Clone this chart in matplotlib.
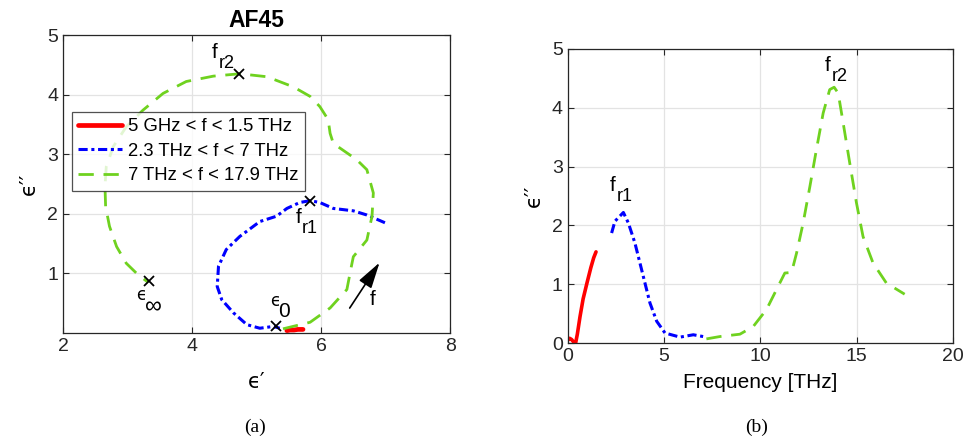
import matplotlib
matplotlib.use("Agg")
import matplotlib.pyplot as plt

plt.rcParams["font.family"] = ["Liberation Sans", "DejaVu Sans"]

RED = "#ff0000"
BLUE = "#0000ff"
GREEN = "#6fd21f"
INK = "#262626"
DASH_BLUE = (0, (3, 1.2, 1, 1.2))
DASH_GREEN = (0, (5.5, 3.5))

# (a) Cole-Cole plane: eps' vs eps''
red_e1 = [5.47, 5.52, 5.58, 5.64, 5.72]
red_e2 = [0.04, 0.05, 0.05, 0.06, 0.06]

blue_e1 = [6.99, 6.71, 6.50, 6.19, 5.98, 5.83, 5.67, 5.47, 5.31, 5.05,
           4.74, 4.53, 4.41, 4.39, 4.46, 4.64, 4.85, 5.05, 5.26, 5.36]
blue_e2 = [1.85, 1.98, 2.05, 2.09, 2.19, 2.22, 2.19, 2.09, 1.96, 1.87,
           1.62, 1.40, 1.12, 0.78, 0.56, 0.34, 0.14, 0.08, 0.11, 0.08]

green_e1 = [5.41, 5.83, 6.14, 6.40, 6.47, 6.50, 6.71, 6.79, 6.81, 6.71,
            6.55, 6.19, 6.14, 6.11, 5.98, 5.83, 5.57, 5.16, 4.74, 4.33,
            3.91, 3.55, 3.24, 2.98, 2.78, 2.67, 2.65, 2.66, 2.72, 2.83,
            2.98, 3.16, 3.32]
green_e2 = [0.07, 0.18, 0.42, 0.73, 1.12, 1.28, 1.56, 1.96, 2.35, 2.74,
            2.91, 3.18, 3.35, 3.58, 3.80, 3.97, 4.13, 4.30, 4.35, 4.31,
            4.22, 4.02, 3.74, 3.46, 3.13, 2.79, 2.46, 2.12, 1.79, 1.45,
            1.17, 0.98, 0.85]

mark_e1 = [4.72, 5.83, 5.30, 3.33]
mark_e2 = [4.35, 2.21, 0.12, 0.87]

# (b) eps'' vs frequency [THz]
red_f = [0.005, 0.1, 0.2, 0.3, 0.4, 0.5, 0.64, 0.8, 1.0, 1.2, 1.35, 1.47]
red_v = [0.05, 0.08, 0.06, 0.02, -0.02, 0.15, 0.45, 0.75, 1.02, 1.28, 1.45, 1.55]

blue_f = [2.28, 2.45, 2.89, 3.15, 3.49, 3.75, 4.01, 4.27, 4.62, 5.05, 5.83, 6.52, 7.2]
blue_v = [1.87, 2.07, 2.22, 2.04, 1.70, 1.36, 1.02, 0.68, 0.37, 0.17, 0.10, 0.14, 0.10]

green_f = [7.2, 7.9, 8.94, 9.63, 10.32, 10.84, 11.27, 11.62, 11.88, 12.22,
           12.57, 12.91, 13.26, 13.6, 13.83, 14.04, 14.3, 14.64, 14.99, 15.33,
           15.85, 16.54, 17.49]
green_v = [0.07, 0.11, 0.15, 0.28, 0.57, 0.91, 1.19, 1.20, 1.53, 2.04,
           2.66, 3.29, 3.91, 4.31, 4.35, 4.25, 3.74, 3.06, 2.38, 1.81,
           1.36, 1.02, 0.83]

legend_labels = ["5 GHz < f < 1.5 THz", "2.3 THz < f < 7 THz", "7 THz < f < 17.9 THz"]


def style_axes(ax):
    ax.grid(True, color="#e3e3e3", linewidth=0.9)
    ax.set_axisbelow(True)
    ax.tick_params(direction="in", top=True, right=True, length=4,
                   labelsize=14, color=INK, labelcolor=INK)
    for s in ax.spines.values():
        s.set_color(INK)
        s.set_linewidth(0.9)


def sub_label(ax, x, y, main, sub, size=15, sub_size=13, dx=5, dy=-7):
    # MATLAB style "a_{b}": full-size main glyph, large subscript set low
    ax.text(x, y, main, ha="left", va="baseline", fontsize=size,
            family=["DejaVu Sans"] if main == "ϵ" else None)
    ax.annotate(sub, xy=(x, y), xytext=(dx, dy), textcoords="offset points",
                ha="left", va="baseline", fontsize=sub_size)


fig = plt.figure(figsize=(9.64, 4.41), dpi=100)
ax1 = fig.add_axes([0.0654, 0.2449, 0.4015, 0.6757])
ax2 = fig.add_axes([0.5889, 0.2222, 0.3997, 0.6667])

# ---- (a)
ax1.plot(red_e1, red_e2, color=RED, lw=3.4, solid_capstyle="round", label=legend_labels[0])
ax1.plot(blue_e1, blue_e2, color=BLUE, lw=2.2, ls=DASH_BLUE, label=legend_labels[1])
ax1.plot(green_e1, green_e2, color=GREEN, lw=2.0, ls=DASH_GREEN, label=legend_labels[2])
ax1.plot(mark_e1, mark_e2, ls="none", marker="x", color="black", ms=7, mew=1.3)

sub_label(ax1, 4.30, 4.61, "f", "r2")
sub_label(ax1, 5.60, 1.84, "f", "r1")
sub_label(ax1, 5.21, 0.45, "ϵ", "0", size=12, sub_size=15, dx=6, dy=-8)
sub_label(ax1, 3.14, 0.56, "ϵ", "∞", size=12, sub_size=17, dx=6, dy=-10)
ax1.annotate("", xy=(6.93, 1.22), xytext=(6.42, 0.38),
             arrowprops=dict(arrowstyle="-|>,head_length=1.0,head_width=0.28",
                             color="black", lw=1.2, mutation_scale=16))
ax1.text(6.76, 0.47, "f", ha="left", va="baseline", fontsize=15)

ax1.set_xlim(2, 8)
ax1.set_ylim(0, 5)
ax1.set_xticks([2, 4, 6, 8])
ax1.set_yticks([1, 2, 3, 4, 5])
style_axes(ax1)
ax1.set_title("AF45", fontsize=16.5, fontweight="bold", pad=6)
ax1.set_xlabel("ϵ′", fontsize=15, labelpad=12, family=["DejaVu Sans"])
ax1.set_ylabel("ϵ′′", fontsize=15, labelpad=6, family=["DejaVu Sans"])
leg = ax1.legend(loc="upper left", bbox_to_anchor=(0.022, 0.742), fontsize=13.3,
                 frameon=True, fancybox=False, edgecolor=INK, handlelength=2.4,
                 handletextpad=0.3, borderpad=0.35, labelspacing=0.4, borderaxespad=0)
leg.get_frame().set_linewidth(0.9)

fig.text(0.2646, 0.032, "(a)", ha="center", va="center", fontsize=14, family="Liberation Serif")

# ---- (b)
ax2.plot(red_f, red_v, color=RED, lw=2.6, solid_capstyle="round")
ax2.plot(blue_f, blue_v, color=BLUE, lw=2.2, ls=DASH_BLUE)
ax2.plot(green_f, green_v, color=GREEN, lw=2.0, ls=DASH_GREEN)
sub_label(ax2, 2.16, 2.58, "f", "r1")
sub_label(ax2, 13.35, 4.62, "f", "r2")

ax2.set_xlim(0, 20)
ax2.set_ylim(0, 5)
ax2.set_xticks([0, 5, 10, 15, 20])
ax2.set_yticks([0, 1, 2, 3, 4, 5])
style_axes(ax2)
ax2.set_xlabel("Frequency [THz]", fontsize=15, labelpad=6)
ax2.set_ylabel("ϵ′′", fontsize=15, labelpad=6, family=["DejaVu Sans"])

fig.text(0.785, 0.032, "(b)", ha="center", va="center", fontsize=14, family="Liberation Serif")

fig.savefig("out.png", dpi=100)
